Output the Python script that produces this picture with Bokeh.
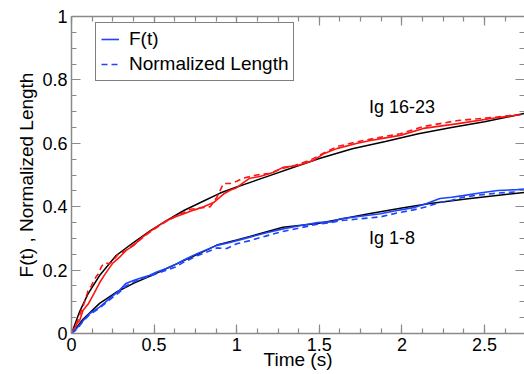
from bokeh.plotting import figure
from bokeh.models import (Range1d, LinearAxis, SingleIntervalTicker, NumeralTickFormatter,
                          CustomJSTickFormatter, Legend, LegendItem)
from bokeh.core.properties import value
from bokeh.embed import file_html
from bokeh.resources import INLINE

# ---- data ----
fit_red_t = [0, 0.05, 0.1, 0.17, 0.27, 0.375, 0.48, 0.575, 0.68, 0.8, 0.9, 1.0, 1.1, 1.2,
             1.35, 1.5, 1.7, 1.9, 2.1, 2.3, 2.5, 2.74]
fit_red_v = [0, 0.07, 0.125, 0.183, 0.246, 0.287, 0.325, 0.356, 0.388, 0.418, 0.443, 0.462,
             0.48, 0.498, 0.525, 0.552, 0.583, 0.606, 0.63, 0.65, 0.668, 0.694]

fit_blue_t = [0, 0.07, 0.17, 0.27, 0.375, 0.48, 0.575, 0.68, 0.76, 0.88, 1.0, 1.08, 1.28,
              1.49, 1.57, 1.8, 2.0, 2.17, 2.4, 2.6, 2.74]
fit_blue_v = [0, 0.045, 0.095, 0.13, 0.158, 0.182, 0.205, 0.23, 0.249, 0.279, 0.295, 0.306,
              0.335, 0.347, 0.355, 0.378, 0.396, 0.41, 0.425, 0.437, 0.445]

red_ft_t = [0, 0.02, 0.03, 0.05, 0.07, 0.1, 0.135, 0.17, 0.2, 0.22, 0.25, 0.29, 0.33, 0.375,
            0.42, 0.47, 0.52, 0.575, 0.63, 0.68, 0.745, 0.8, 0.86, 0.92, 0.96, 1.0, 1.04, 1.08,
            1.14, 1.22, 1.28, 1.37, 1.43, 1.465, 1.53, 1.61, 1.73, 1.81, 1.91, 1.99, 2.13,
            2.34, 2.54, 2.64, 2.72]
red_ft_v = [0, 0.012, 0.03, 0.042, 0.073, 0.092, 0.125, 0.16, 0.185, 0.2, 0.222, 0.24, 0.262,
            0.277, 0.3, 0.32, 0.338, 0.356, 0.368, 0.378, 0.39, 0.4, 0.413, 0.44, 0.452, 0.46,
            0.476, 0.49, 0.495, 0.508, 0.524, 0.53, 0.54, 0.546, 0.568, 0.584, 0.6, 0.609,
            0.618, 0.625, 0.647, 0.662, 0.678, 0.685, 0.69]

red_len_t = [0, 0.03, 0.06, 0.08, 0.1, 0.12, 0.135, 0.15, 0.165, 0.18, 0.195, 0.21, 0.23,
             0.25, 0.26, 0.28, 0.33, 0.375, 0.42, 0.47, 0.52, 0.575, 0.63, 0.68, 0.72, 0.78,
             0.84, 0.88, 0.92, 0.96, 1.0, 1.04, 1.12, 1.2, 1.27, 1.35, 1.45, 1.53, 1.61, 1.69,
             1.77, 1.89, 1.99, 2.13, 2.34, 2.54, 2.64, 2.7]
red_len_v = [0, 0.03, 0.073, 0.1, 0.135, 0.15, 0.167, 0.18, 0.19, 0.21, 0.22, 0.222, 0.22,
             0.228, 0.236, 0.248, 0.262, 0.28, 0.298, 0.318, 0.336, 0.354, 0.37, 0.382, 0.392,
             0.396, 0.4, 0.43, 0.473, 0.473, 0.48, 0.49, 0.5, 0.505, 0.52, 0.53, 0.548, 0.57,
             0.59, 0.6, 0.609, 0.621, 0.63, 0.653, 0.672, 0.681, 0.687, 0.69]

blue_ft_t = [0, 0.03, 0.07, 0.11, 0.17, 0.23, 0.29, 0.33, 0.375, 0.42, 0.47, 0.52, 0.575,
             0.63, 0.68, 0.76, 0.88, 0.94, 1.0, 1.08, 1.18, 1.28, 1.38, 1.49, 1.57, 1.63, 1.75,
             1.87, 1.97, 2.07, 2.15, 2.23, 2.3, 2.37, 2.47, 2.58, 2.7, 2.74]
blue_ft_v = [0, 0.015, 0.04, 0.063, 0.083, 0.11, 0.136, 0.158, 0.167, 0.175, 0.183, 0.195,
             0.205, 0.218, 0.232, 0.252, 0.278, 0.285, 0.293, 0.304, 0.318, 0.33, 0.34, 0.35,
             0.352, 0.362, 0.37, 0.378, 0.388, 0.397, 0.41, 0.426, 0.43, 0.435, 0.443, 0.451,
             0.454, 0.456]

blue_len_t = [0, 0.03, 0.07, 0.11, 0.17, 0.23, 0.29, 0.33, 0.375, 0.42, 0.47, 0.52, 0.575,
              0.63, 0.68, 0.76, 0.88, 0.94, 1.0, 1.08, 1.18, 1.28, 1.38, 1.49, 1.57, 1.63,
              1.75, 1.87, 1.97, 2.07, 2.15, 2.23, 2.3, 2.37, 2.47, 2.58, 2.7]
blue_len_v = [0, 0.012, 0.038, 0.06, 0.08, 0.106, 0.13, 0.15, 0.162, 0.172, 0.18, 0.19, 0.2,
              0.21, 0.225, 0.245, 0.27, 0.268, 0.283, 0.293, 0.308, 0.322, 0.333, 0.345, 0.35,
              0.356, 0.362, 0.368, 0.38, 0.39, 0.4, 0.413, 0.42, 0.43, 0.437, 0.443, 0.447]

series_labels = ["F(t)", "Normalized Length"]
curve_labels = ["Ig 16-23", "Ig 1-8"]
curve_label_t = [2.0, 1.94]
curve_label_v = [0.713, 0.30]
x_title = "Time (s)"
y_title = "F(t) , Normalized Length"

# ---- styling ----
FONT = "Liberation Sans"
RED = "#ff1414"
BLUE = "#1d44ff"
AXC = "#8a8a8a"

p = figure(width=524, height=374, output_backend="svg", toolbar_location=None,
           x_range=Range1d(0, 2.742), y_range=Range1d(0, 1),
           min_border_left=71, min_border_top=16, min_border_right=0, min_border_bottom=41,
           x_axis_type=None, y_axis_type=None)
p.outline_line_color = None
p.background_fill_color = "white"
p.border_fill_color = "white"


def style_axis(ax, show_labels, ticker):
    ax.ticker = ticker
    ax.axis_line_color = AXC
    ax.axis_line_width = 1.5
    ax.major_tick_line_color = AXC
    ax.minor_tick_line_color = AXC
    ax.major_tick_line_width = 1.2
    ax.minor_tick_line_width = 1.2
    ax.major_tick_in = 9
    ax.major_tick_out = 0
    ax.minor_tick_in = 5
    ax.minor_tick_out = 0
    if show_labels:
        ax.formatter = NumeralTickFormatter(format="0.[0]")
        ax.major_label_text_font = FONT
        ax.major_label_text_font_size = "18px"
        ax.major_label_text_color = "black"
        ax.major_label_standoff = 4
    else:
        ax.formatter = CustomJSTickFormatter(code="return ''")
        ax.major_label_standoff = 0


xb = LinearAxis(axis_label=x_title)
style_axis(xb, True, SingleIntervalTicker(interval=0.5, num_minor_ticks=4))
xb.major_label_standoff = 4
xb.axis_label_text_font = FONT
xb.axis_label_text_font_size = "19px"
xb.axis_label_text_font_style = "normal"
xb.axis_label_text_color = "black"
xb.axis_label_standoff = -5
p.add_layout(xb, "below")
xt = LinearAxis()
style_axis(xt, False, SingleIntervalTicker(interval=0.5, num_minor_ticks=4))
p.add_layout(xt, "above")
yl = LinearAxis(axis_label=y_title)
style_axis(yl, True, SingleIntervalTicker(interval=0.2, num_minor_ticks=4))
yl.axis_label_text_font = FONT
yl.axis_label_text_font_size = "19px"
yl.axis_label_text_font_style = "normal"
yl.axis_label_text_color = "black"
yl.axis_label_standoff = 2
p.add_layout(yl, "left")
yr = LinearAxis()
style_axis(yr, False, SingleIntervalTicker(interval=0.2, num_minor_ticks=4))
yr.axis_line_color = None
p.add_layout(yr, "right")

# fits
p.line(fit_red_t, fit_red_v, line_color="black", line_width=1.5)
p.line(fit_blue_t, fit_blue_v, line_color="black", line_width=1.5)
# data
r1 = p.line(red_ft_t, red_ft_v, line_color=RED, line_width=1.6)
r2 = p.line(red_len_t, red_len_v, line_color=RED, line_width=1.6, line_dash="6 4")
b1 = p.line(blue_ft_t, blue_ft_v, line_color=BLUE, line_width=1.6)
b2 = p.line(blue_len_t, blue_len_v, line_color=BLUE, line_width=1.6, line_dash="6 4")

p.text(x=curve_label_t, y=curve_label_v, text=curve_labels, text_font=value(FONT),
       text_font_size="18px", text_align="center", text_baseline="middle", text_color="black")

legend = Legend(items=[LegendItem(label=series_labels[0], renderers=[b1]),
                       LegendItem(label=series_labels[1], renderers=[b2])],
                location=(24, 252))
legend.label_text_font = FONT
legend.label_text_font_size = "19px"
legend.label_text_color = "black"
legend.glyph_width = 18
legend.glyph_height = 20
legend.label_standoff = 10
legend.padding = 5
legend.spacing = 3
legend.margin = 0
legend.border_line_color = "black"
legend.border_line_width = 1
legend.background_fill_alpha = 1
p.add_layout(legend, "center")

open("out.html", "w").write(file_html(p, INLINE))
